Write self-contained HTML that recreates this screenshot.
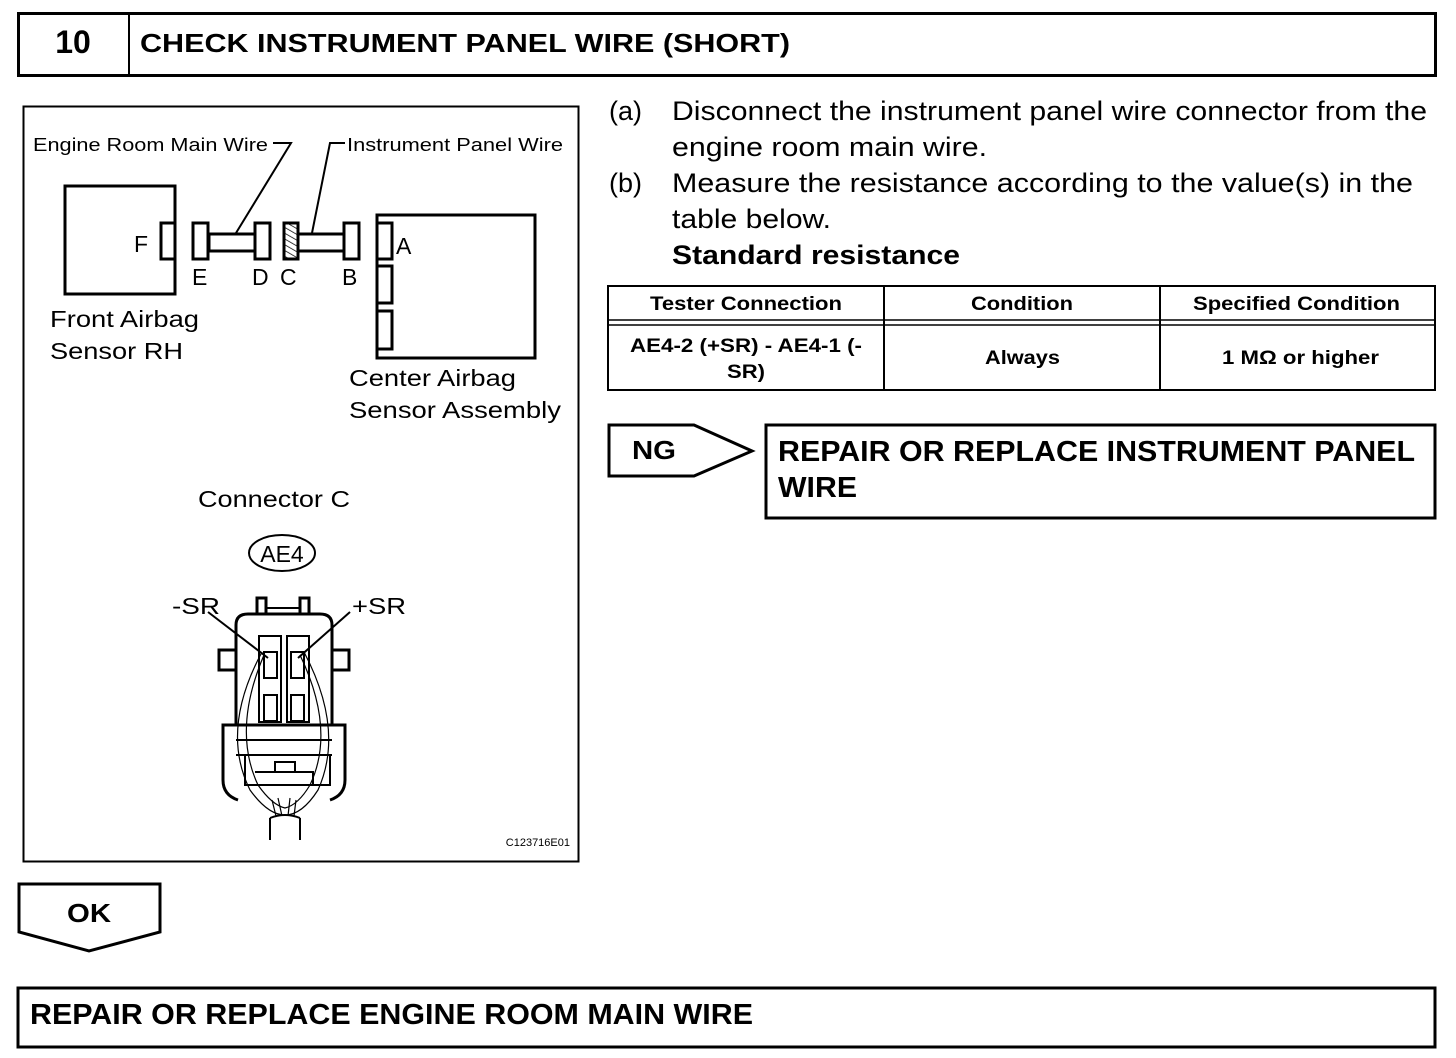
<!DOCTYPE html>
<html><head><style>
html,body{margin:0;padding:0;background:#fff;}
svg{display:block;}
text{font-family:"Liberation Sans",Arial,sans-serif;fill:#000;}
</style></head><body>
<svg width="1456" height="1058" viewBox="0 0 1456 1058" xmlns="http://www.w3.org/2000/svg">
<defs>
<pattern id="h" width="5" height="5" patternUnits="userSpaceOnUse" patternTransform="rotate(-60)">
<rect width="5" height="5" fill="#fff"/><line x1="0" y1="0" x2="0" y2="5" stroke="#000" stroke-width="1.5"/>
</pattern>
</defs>
<!-- header -->
<rect x="18.5" y="13.5" width="1417" height="62" fill="none" stroke="#000" stroke-width="3"/>
<line x1="129" y1="13" x2="129" y2="76" stroke="#000" stroke-width="2"/>
<text x="73" y="53" font-size="32" font-weight="bold" text-anchor="middle">10</text>
<text x="140" y="52" font-size="26" font-weight="bold" textLength="650" lengthAdjust="spacingAndGlyphs">CHECK INSTRUMENT PANEL WIRE (SHORT)</text>

<!-- diagram box -->
<rect x="23.5" y="106.5" width="555" height="755" fill="none" stroke="#000" stroke-width="2"/>
<text x="33" y="151" font-size="18" textLength="235" lengthAdjust="spacingAndGlyphs">Engine Room Main Wire</text>
<text x="347" y="151" font-size="18" textLength="216" lengthAdjust="spacingAndGlyphs">Instrument Panel Wire</text>
<polyline points="273,143 291,143 236,233" fill="none" stroke="#000" stroke-width="2"/>
<polyline points="345,143 330,143 312,233" fill="none" stroke="#000" stroke-width="2"/>
<g fill="#fff" stroke="#000" stroke-width="3">
<rect x="65" y="186" width="110" height="108"/>
<rect x="161" y="223" width="14" height="36"/>
<rect x="209" y="234" width="46" height="17"/>
<rect x="193" y="223" width="15" height="36"/>
<rect x="255" y="223" width="15" height="36"/>
<rect x="298" y="234" width="46" height="17"/>
<rect x="284" y="223" width="14" height="36" fill="url(#h)"/>
<rect x="344" y="223" width="15" height="36"/>
<rect x="377" y="215" width="158" height="143"/>
<rect x="377" y="223" width="15" height="36"/>
<rect x="377" y="266" width="15" height="37"/>
<rect x="377" y="311" width="15" height="38"/>
</g>
<text x="134" y="252" font-size="23">F</text>
<text x="192" y="285" font-size="23">E</text>
<text x="252" y="285" font-size="23">D</text>
<text x="280" y="285" font-size="23">C</text>
<text x="342" y="285" font-size="23">B</text>
<text x="396" y="254" font-size="23">A</text>
<text x="50" y="327" font-size="23" textLength="149" lengthAdjust="spacingAndGlyphs">Front Airbag</text>
<text x="50" y="359" font-size="23" textLength="133" lengthAdjust="spacingAndGlyphs">Sensor RH</text>
<text x="349" y="386" font-size="23" textLength="167" lengthAdjust="spacingAndGlyphs">Center Airbag</text>
<text x="349" y="418" font-size="23" textLength="212" lengthAdjust="spacingAndGlyphs">Sensor Assembly</text>
<text x="198" y="507" font-size="23" textLength="152" lengthAdjust="spacingAndGlyphs">Connector C</text>
<ellipse cx="282" cy="553" rx="33" ry="18" fill="none" stroke="#000" stroke-width="2"/>
<text x="282" y="562" font-size="23" text-anchor="middle">AE4</text>
<text x="172" y="614" font-size="23" textLength="48" lengthAdjust="spacingAndGlyphs">-SR</text>
<text x="352" y="614" font-size="23" textLength="54" lengthAdjust="spacingAndGlyphs">+SR</text>

<!-- connector drawing -->
<g fill="none" stroke="#000" stroke-width="3">
<path d="M257,614 V598 H266 V614 M300,614 V598 H309 V614"/>
<line x1="266" y1="608" x2="300" y2="608" stroke-width="2"/>
<path d="M236,625 Q236,614 248,614 H320 Q332,614 332,625 V725 H236 Z"/>
<path d="M236,650 H219 V670 H236 M332,650 H349 V670 H332"/>
<path d="M235,725 H223 V780 Q223,795 238,800 M333,725 H345 V780 Q345,795 330,800"/>
<rect x="259" y="636" width="22" height="86" stroke-width="2"/>
<rect x="287" y="636" width="22" height="86" stroke-width="2"/>
<rect x="264" y="652" width="13" height="26" stroke-width="2"/>
<rect x="291" y="652" width="13" height="26" stroke-width="2"/>
<rect x="264" y="695" width="13" height="26" stroke-width="2"/>
<rect x="291" y="695" width="13" height="26" stroke-width="2"/>
<path d="M236,740 H332 M236,755 H332 M245,755 V785 H330 V755 M255,772 H313 V785 M275,772 V762 H295 V772" stroke-width="2"/>
<path d="M270,818 V840 M300,818 V840 M270,818 Q285,812 300,818" stroke-width="2"/>
</g>
<g fill="none" stroke="#000" stroke-width="1.2">
<path d="M262,652 Q220,730 250,790 Q268,815 285,815 Q302,815 318,790 Q345,730 304,652"/>
<path d="M264,655 Q232,730 258,785 Q272,805 285,808 Q298,805 310,785 Q336,730 300,655"/>
<line x1="208" y1="612" x2="268" y2="658" stroke-width="2"/>
<line x1="350" y1="612" x2="298" y2="658" stroke-width="2"/>
<path d="M278,798 L282,816 M290,798 L288,816 M272,800 L276,816 M296,800 L294,816"/>
</g>
<text x="570" y="846" font-size="11" text-anchor="end">C123716E01</text>

<!-- instructions -->
<g font-size="27">
<text x="609" y="120">(a)</text>
<text x="672" y="120" textLength="755" lengthAdjust="spacingAndGlyphs">Disconnect the instrument panel wire connector from the</text>
<text x="672" y="156" textLength="315" lengthAdjust="spacingAndGlyphs">engine room main wire.</text>
<text x="609" y="192">(b)</text>
<text x="672" y="192" textLength="741" lengthAdjust="spacingAndGlyphs">Measure the resistance according to the value(s) in the</text>
<text x="672" y="228" textLength="159" lengthAdjust="spacingAndGlyphs">table below.</text>
<text x="672" y="264" font-weight="bold" textLength="288" lengthAdjust="spacingAndGlyphs">Standard resistance</text>
</g>

<!-- table -->
<g stroke="#000" fill="none">
<rect x="608" y="286" width="827" height="104" stroke-width="2"/>
<line x1="608" y1="320" x2="1435" y2="320" stroke-width="1.5"/>
<line x1="608" y1="325" x2="1435" y2="325" stroke-width="1.5"/>
<line x1="884" y1="286" x2="884" y2="390" stroke-width="2"/>
<line x1="1160" y1="286" x2="1160" y2="390" stroke-width="2"/>
</g>
<g font-size="19" font-weight="bold">
<text x="650" y="310" textLength="192" lengthAdjust="spacingAndGlyphs">Tester Connection</text>
<text x="971" y="310" textLength="102" lengthAdjust="spacingAndGlyphs">Condition</text>
<text x="1193" y="310" textLength="207" lengthAdjust="spacingAndGlyphs">Specified Condition</text>
<text x="630" y="352" textLength="232" lengthAdjust="spacingAndGlyphs">AE4-2 (+SR) - AE4-1 (-</text>
<text x="727" y="378" textLength="38" lengthAdjust="spacingAndGlyphs">SR)</text>
<text x="985" y="364" textLength="75" lengthAdjust="spacingAndGlyphs">Always</text>
<text x="1222" y="364" textLength="157" lengthAdjust="spacingAndGlyphs">1 MΩ or higher</text>
</g>

<!-- NG -->
<polygon points="609,425 694,425 752,451 694,476 609,476" fill="none" stroke="#000" stroke-width="3"/>
<text x="632" y="459" font-size="26" font-weight="bold" textLength="44" lengthAdjust="spacingAndGlyphs">NG</text>
<rect x="766" y="425" width="669" height="93" fill="none" stroke="#000" stroke-width="3"/>
<text x="778" y="461" font-size="29" font-weight="bold" textLength="637" lengthAdjust="spacingAndGlyphs">REPAIR OR REPLACE INSTRUMENT PANEL</text>
<text x="778" y="497" font-size="29" font-weight="bold" textLength="79" lengthAdjust="spacingAndGlyphs">WIRE</text>

<!-- OK -->
<polygon points="19,884 160,884 160,932 89,951 19,932" fill="none" stroke="#000" stroke-width="3"/>
<text x="67" y="922" font-size="26" font-weight="bold" textLength="44" lengthAdjust="spacingAndGlyphs">OK</text>

<rect x="18" y="988" width="1417" height="59" fill="none" stroke="#000" stroke-width="3"/>
<text x="30" y="1024" font-size="29" font-weight="bold" textLength="723" lengthAdjust="spacingAndGlyphs">REPAIR OR REPLACE ENGINE ROOM MAIN WIRE</text>
</svg>
</body></html>
